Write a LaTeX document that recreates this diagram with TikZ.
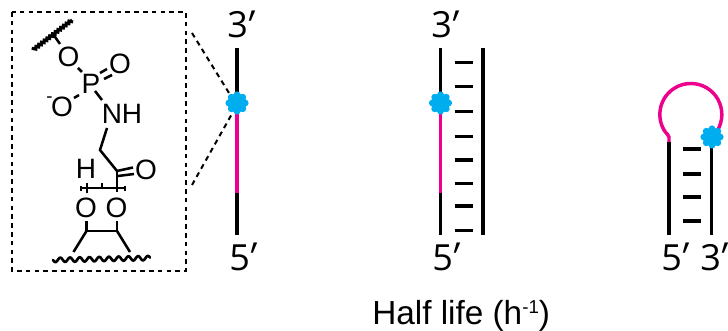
\documentclass[tikz,border=0pt]{standalone}
\usepackage{fontspec}
\setmainfont{Liberation Sans}
\newfontfamily\primefont[FakeSlant=0.35]{Open Sans}
\newfontfamily\digitfont{Open Sans}
\newcommand{\lab}[1]{{\digitfont #1}\kern-6pt{\primefont\fontsize{30}{30}\selectfont\raisebox{-1pt}{′}}\kern-3pt}
\definecolor{mag}{HTML}{EC008C}
\definecolor{cy}{HTML}{00AEEF}
\usetikzlibrary{decorations.pathmorphing}
\tikzset{
  x=0.75pt,y=-0.75pt,
  strand/.style={line width=2.6pt,black},
  loopseg/.style={line width=2.6pt,mag},
  rung/.style={line width=2.4pt,black},
  bond/.style={line width=1.9pt,black},
  thinbond/.style={line width=1.5pt,black},
  frame/.style={line width=1.5pt,black,dash pattern=on 3.4pt off 3.2pt},
  lead/.style={line width=1.5pt,black,dash pattern=on 3.8pt off 3.2pt},
  wavy/.style={line width=2pt,black,line cap=round,line join=round,domain=0:97,samples=120,smooth},
  fuzzy/.style={line width=2.4pt,black,decorate,decoration={snake,amplitude=.7pt,segment length=2.6pt}},
  endlabel/.style={inner sep=0pt,anchor=west,font=\fontsize{27}{30}\selectfont},
  atom/.style={inner sep=0pt,font=\fontsize{21}{24}\selectfont},
  caption/.style={inner sep=0pt,font=\fontsize{25}{30}\selectfont},
  marker/.style={circle,fill=cy,inner sep=0pt,minimum size=14pt},
}
\newcommand{\bumps}[1]{\foreach \a in {0,45,...,315}{\fill[cy] (#1)++(\a:8.2)circle[radius=3.4];}}
\begin{document}
\begin{tikzpicture}
\useasboundingbox (0,0) rectangle (728,331);
% inset frame
\draw[frame] (12,12) rectangle (186,271);
% chemistry
\node[atom] (o1) at (68.5,57) {O};
\node[atom] (p) at (91,84) {P};
\node[atom] (o2) at (120,63.5) {O};
\node[atom] (o3) at (62,107) {O};
\node[atom,font=\fontsize{14}{16}\selectfont] (minus) at (49.5,99.5) {-};
\node[atom] (nh) at (122,113.5) {NH};
\node[atom] (h) at (86,169) {H};
\node[atom] (o4) at (146,170) {O};
\node[atom] (o5) at (86,208) {O};
\node[atom] (o6) at (116.5,208) {O};
\coordinate (w1) at (33,50); \coordinate (w2) at (72,20);
\draw[fuzzy] (w1) -- (w2);
\draw[bond] (53,34) -- (60,44);
\draw[bond] (78,68) -- (82,72);
\draw[bond] (100,73) -- (107,69);
\draw[bond] (104,79) -- (112,75);
\draw[bond] (74,98) -- (79,95);
\draw[bond] (95,91) -- (102,100);
\draw[bond] (107,128) -- (100,150) -- (117,171);
\draw[bond] (117,171) -- (133,167.5);
\draw[bond] (118,176) -- (134,174);
\draw[bond] (117,171) -- (117,192);
\draw[thinbond] (81,188) -- (124,188);
\draw[thinbond] (81,186) -- (81,191) (125,186) -- (125,191) (101.5,183) -- (101.5,188);
\draw[bond] (87,183) -- (87,193);
\draw[bond] (86.5,221) -- (86.5,231) -- (117,231) -- (117,221);
\draw[bond] (86.5,231) -- (73.5,252);
\draw[bond] (117,231) -- (130,252);
\draw[wavy] plot ({53+\x},{260-0.02*\x+2.2*sin(\x*37)});
% strand 1
\node[endlabel] (a3) at (227,25) {\lab{3}};
\node[endlabel] (a5) at (229,257.5) {\lab{5}};
\coordinate (at) at (237,48); \coordinate (ap) at (237,193); \coordinate (ab) at (237,235);
\node[marker] (am) at (237,103) {};
\draw[strand] (at) -- (am.center);
\draw[loopseg] (am.center) -- (ap);
\draw[strand] (ap) -- (ab);
\node[marker] at (am) {}; \bumps{am}
\coordinate (l1) at (192,33); \coordinate (l2) at (192,185);
\draw[lead] (l1) -- (229,93);
\draw[lead] (l2) -- (233,112);
% strand 2
\node[endlabel] (b3) at (431,25) {\lab{3}};
\node[endlabel] (b5) at (432,257.5) {\lab{5}};
\coordinate (bt) at (440.5,48); \coordinate (bp) at (440.5,193); \coordinate (bb) at (440.5,235);
\node[marker] (bm) at (440.5,103) {};
\draw[strand] (bt) -- (bm.center);
\draw[loopseg] (bm.center) -- (bp);
\draw[strand] (bp) -- (bb);
\node[marker] at (bm) {}; \bumps{bm}
\draw[strand] (483,48) -- (483,235);
\foreach \y in {62.7,86.7,111.7,136.7,160,183.7,206,230.7}
  \draw[rung] (454.5,\y) -- (472.5,\y);
% hairpin
\node[endlabel] (c5) at (661,257.5) {\lab{5}};
\node[endlabel] (c3) at (700,257.5) {\lab{3}};
\coordinate (cl) at (669,142); \coordinate (cr) at (711.7,146);
\draw[strand] (cl) -- (669,235);
\draw[strand] (711.7,137) -- (711.7,235);
\draw[loopseg] (669,142) -- (669,137) .. controls (669,134.5) and (666,134) .. (664,130)
  arc[start angle=210,end angle=-32,x radius=31,y radius=-31];
\node[marker] (cm) at (712,137) {}; \bumps{cm}
\foreach \y in {149,174,197,221}
  \draw[rung] (683,\y) -- (701,\y);
% caption
\node[caption,anchor=base west] (cap) at (372,325) {Half life (h\raisebox{8.5pt}{\fontsize{14}{16}\selectfont -1})};
\end{tikzpicture}
\end{document}
